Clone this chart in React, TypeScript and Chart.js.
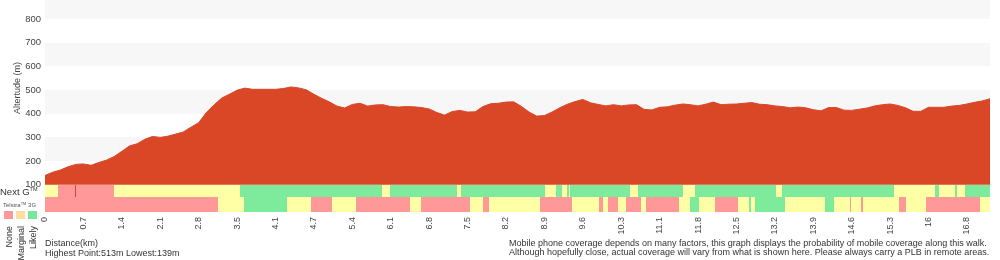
import React, { useEffect, useRef } from "react";
import { Chart, registerables } from "chart.js";

Chart.register(...registerables);

// ---- data ----
const TICK_LABELS = ["0", "0.7", "1.4", "2.1", "2.8", "3.5", "4.1", "4.7", "5.4", "6.1", "6.8", "7.5", "8.2", "8.9", "9.6", "10.3", "11.1", "11.8", "12.5", "13.2", "13.9", "14.6", "15.3", "16", "16.8"];
const SAMPLES_PER_TICK = 5;

const ALTITUDE = [
  139, 153, 162, 176, 186, 188, 182, 194, 204, 219,
  241, 264, 273, 292, 304, 300, 305, 314, 323, 343,
  362, 405, 437, 466, 482, 499, 508, 503, 503, 503,
  503, 506, 513, 509, 501, 482, 465, 450, 432, 424,
  439, 444, 432, 437, 438, 430, 428, 430, 429, 426,
  420, 405, 394, 409, 414, 407, 408, 430, 442, 444,
  449, 450, 431, 407, 390, 392, 407, 425, 440, 451,
  460, 446, 439, 433, 438, 433, 437, 438, 418, 416,
  427, 429, 436, 441, 438, 433, 440, 449, 438, 440,
  441, 444, 447, 440, 438, 433, 430, 425, 428, 425,
  417, 412, 426, 426, 415, 414, 419, 424, 433, 438,
  441, 435, 425, 410, 410, 427, 427, 427, 432, 435,
  441, 448, 454, 463,
];

const Y_TICKS = [100, 200, 300, 400, 500, 600, 700, 800];

// coverage: segment boundaries (in sample index) and level per segment
// 0 = None, 1 = Marginal, 2 = Likely, 3 = marker
const NEXTG_BREAKS = [0, 1.7, 3.9, 4.03, 9.0, 25.4, 43.9, 44.9, 53.6, 54.1, 65.1, 66.5, 67.3, 67.9, 68.2, 68.3, 76.1, 77.2, 83.0, 84.6, 95.1, 95.9, 110.5, 115.8, 116.3, 118.4, 118.7, 119.7, 123];
const NEXTG_LEVELS = [1, 0, 3, 0, 1, 2, 1, 2, 1, 2, 1, 2, 1, 2, 1, 2, 1, 2, 1, 2, 1, 2, 1, 2, 1, 2, 1, 2];

const G3_BREAKS = [0, 22.5, 25.9, 31.5, 34.6, 37.35, 40.5, 47.5, 48.9, 55.3, 57.0, 57.8, 64.4, 68.6, 72.1, 72.6, 73.3, 74.6, 75.6, 77.6, 78.2, 82.5, 84.0, 85.1, 87.2, 90.2, 91.6, 91.9, 92.4, 96.3, 101.5, 102.7, 104.8, 104.9, 106.2, 106.5, 111.2, 112.1, 114.7, 121.7, 123];
const G3_LEVELS = [0, 1, 2, 1, 0, 1, 0, 1, 0, 1, 0, 1, 0, 1, 0, 1, 0, 1, 0, 1, 0, 1, 2, 1, 0, 1, 2, 1, 2, 1, 2, 1, 0, 1, 0, 1, 0, 1, 0, 1];

const LEGEND_LABELS = ["None", "Marginal", "Likely"];

// ---- styles ----
const FONT = '"Liberation Sans", Arial, Helvetica, sans-serif';
const LEVEL_COLORS = ["#ff9999", "#ffffa6", "#7deb9b", "#d94727"];
const LEGEND_COLORS = ["#ff9999", "#ffdf9f", "#77e89a"];
const FILL_COLOR = "#d94727";
const BAND_COLOR = "#f7f7f7";
const TEXT_COLOR = "#444";
const Y_MIN = -15;
const Y_MAX = 880;
const NEXTG_TOP = 100;
const NEXTG_BOTTOM = 48;

const bandsPlugin = {
  id: "bands",
  beforeDatasetsDraw(chart: any) {
    const { ctx, chartArea, scales } = chart;
    const y = scales.y;
    ctx.save();
    ctx.beginPath();
    ctx.rect(chartArea.left, chartArea.top, chartArea.right - chartArea.left, chartArea.bottom - chartArea.top);
    ctx.clip();
    ctx.fillStyle = BAND_COLOR;
    Y_TICKS.forEach((v, i) => {
      if (i % 2 === 1) {
        const y0 = Math.round(y.getPixelForValue(v + 100));
        const y1 = Math.round(y.getPixelForValue(v));
        ctx.fillRect(chartArea.left, y0, chartArea.right - chartArea.left, y1 - y0);
      }
    });
    ctx.restore();
  },
  afterDatasetsDraw(chart: any) {
    const { ctx, scales } = chart;
    const x = scales.x;
    const y = scales.y;
    const drawRow = (breaks: number[], levels: number[], top: number, bottom: number) => {
      const y0 = Math.round(y.getPixelForValue(top));
      const y1 = Math.round(y.getPixelForValue(bottom));
      levels.forEach((lv, i) => {
        const x0 = Math.round(x.getPixelForValue(breaks[i]));
        const x1 = Math.round(x.getPixelForValue(breaks[i + 1]));
        ctx.fillStyle = LEVEL_COLORS[lv];
        ctx.fillRect(x0, y0, Math.max(1, x1 - x0), y1 - y0);
      });
    };
    ctx.save();
    drawRow(NEXTG_BREAKS, NEXTG_LEVELS, NEXTG_TOP, NEXTG_BOTTOM);
    drawRow(G3_BREAKS, G3_LEVELS, NEXTG_BOTTOM, Y_MIN);
    ctx.restore();
  },
};

export default function App() {
  const ref = useRef<HTMLCanvasElement>(null);

  useEffect(() => {
    if (!ref.current) return;
    const chart = new Chart(ref.current, {
      type: "line",
      data: {
        datasets: [
          {
            data: ALTITUDE.map((a, i) => ({ x: i, y: a })),
            fill: { value: 100 },
            backgroundColor: FILL_COLOR,
            borderColor: FILL_COLOR,
            borderWidth: 1,
            pointRadius: 0,
            tension: 0,
          },
        ],
      },
      options: {
        responsive: false,
        animation: false,
        layout: { padding: { left: 0, right: 10, top: 0, bottom: 0 } },
        plugins: {
          legend: { display: false },
          tooltip: { enabled: false },
        },
        scales: {
          x: {
            type: "linear",
            min: 0,
            max: ALTITUDE.length - 1,
            grid: { display: false, drawTicks: false },
            border: { display: false },
            afterBuildTicks: (s: any) => {
              s.ticks = TICK_LABELS.map((_, i) => ({ value: i * SAMPLES_PER_TICK }));
            },
            afterFit: (s: any) => {
              s.height = 48;
              s.paddingLeft = 0;
              s.paddingRight = 0;
            },
            ticks: {
              autoSkip: false,
              minRotation: 90,
              maxRotation: 90,
              padding: 5,
              color: TEXT_COLOR,
              font: { family: FONT, size: 9 },
              callback: (_v: any, i: number) => TICK_LABELS[i],
            },
          },
          y: {
            min: Y_MIN,
            max: Y_MAX,
            grid: { display: false, drawTicks: false },
            border: { display: false },
            afterBuildTicks: (s: any) => {
              s.ticks = Y_TICKS.map((v) => ({ value: v }));
            },
            afterFit: (s: any) => {
              s.width = 45;
              s.paddingTop = 0;
              s.paddingBottom = 0;
            },
            ticks: {
              padding: 4,
              color: TEXT_COLOR,
              font: { family: FONT, size: 9.5 },
              callback: (v: any) => String(v),
            },
          },
        },
      } as any,
      plugins: [bandsPlugin],
    });
    return () => chart.destroy();
  }, []);

  const abs = (s: React.CSSProperties): React.CSSProperties => ({ position: "absolute", whiteSpace: "nowrap", ...s });

  return (
    <div style={{ position: "absolute", left: 0, top: 0, width: 1000, height: 260, overflow: "hidden", fontFamily: FONT, color: "#333", background: "#fff" }}>
      <canvas ref={ref} width={1000} height={260} style={{ position: "absolute", left: 0, top: 0, width: 1000, height: 260 }} />
      <div style={abs({ left: 16.5, top: 88, fontSize: 9, color: TEXT_COLOR, transform: "translate(-50%,-50%) rotate(-90deg)" })}>Altertude (m)</div>
      <div style={abs({ left: 0, top: 186, fontSize: 9.5, lineHeight: "12px", color: "#333" })}>
        Next G<span style={{ fontSize: 5.5, position: "relative", top: -4 }}>TM</span>
      </div>
      <div style={abs({ left: 3, top: 201, fontSize: 6, lineHeight: "8px", color: "#555" })}>
        Telstra<span style={{ fontSize: 4, position: "relative", top: -2 }}>TM</span> 3G
      </div>
      {LEGEND_COLORS.map((c, i) => (
        <div key={c} style={abs({ left: 4 + i * 12.2, top: 211, width: 8.5, height: 8, background: c })} />
      ))}
      {LEGEND_LABELS.map((t, i) => (
        <div key={t} style={abs({ left: 8.5 + i * 12, top: 246, width: 40, height: 11, lineHeight: "11px", fontSize: 9, textAlign: "right", color: "#333", transform: "translate(-50%,-50%) rotate(-90deg)" })}>{t}</div>
      ))}
      <div style={abs({ left: 45, top: 238, fontSize: 9, lineHeight: "10px" })}>Distance(km)</div>
      <div style={abs({ left: 45, top: 247.5, fontSize: 9, lineHeight: "10px" })}>Highest Point:513m Lowest:139m</div>
      <div style={abs({ left: 509, top: 239, fontSize: 9, lineHeight: "9px" })}>
        Mobile phone coverage depends on many factors, this graph displays the probability of mobile coverage along this walk.
        <br />
        Although hopefully close, actual coverage will vary from what is shown here. Please always carry a PLB in remote areas.
      </div>
    </div>
  );
}
